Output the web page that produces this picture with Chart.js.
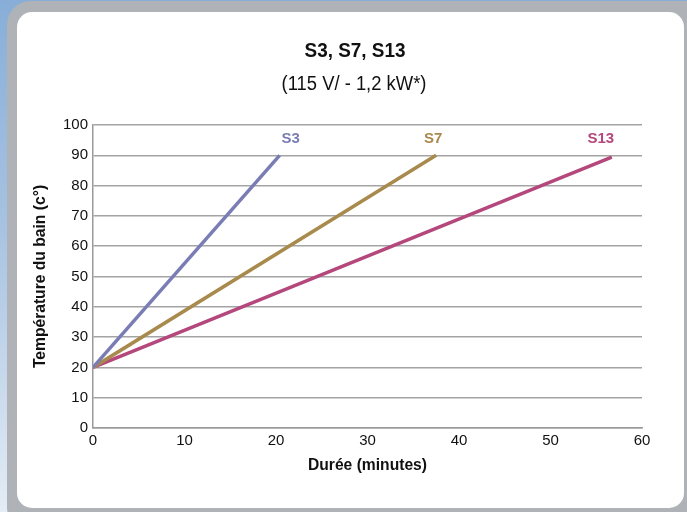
<!DOCTYPE html>
<html>
<head>
<meta charset="utf-8">
<script src="https://cdn.jsdelivr.net/npm/chart.js@4.4.1/dist/chart.umd.min.js"></script>
<style>
  html, body { margin: 0; padding: 0; }
  body {
    width: 687px; height: 512px; overflow: hidden; position: relative;
    background: linear-gradient(180deg, #88aed8 0%, #a8c3e2 45%, #e4ecf5 100%);
  }
  .frame {
    position: absolute; left: 7px; top: 1px; width: 700px; height: 530px;
    background: #afb3b7; border-radius: 24px;
  }
  .panel {
    position: absolute; left: 17px; top: 12px; width: 667px; height: 496px;
    background: #ffffff; border-radius: 15px;
  }
  canvas { position: absolute; left: 0; top: 0; }
</style>
</head>
<body>
<div class="frame"></div>
<div class="panel"></div>
<canvas id="chart" width="687" height="512"></canvas>
<script>
// Heating curves: bath temperature (°C) against time (minutes)
const seriesNames = ['S3', 'S7', 'S13'];
const durations = {
  S3:  [0, 20.4],
  S7:  [0, 37.5],
  S13: [0, 56.7]
};
const temperatures = {
  S3:  [20, 90],
  S7:  [20, 90],
  S13: [20, 89.4]
};
const seriesColors = ['#7a7db4', '#a88a4c', '#b4477b'];
const labelShift = [11, -3, -11];
const xTicks = [0, 10, 20, 30, 40, 50, 60];
const yTicks = [0, 10, 20, 30, 40, 50, 60, 70, 80, 90, 100];

const sans = '"Liberation Sans", Arial, Helvetica, sans-serif';

// Draw text squeezed horizontally to get a condensed face
function condensedText(ctx, text, x, y, font, squeeze, angle) {
  ctx.save();
  ctx.translate(x, y);
  if (angle) ctx.rotate(angle);
  ctx.scale(squeeze, 1);
  ctx.font = font;
  ctx.fillStyle = '#111';
  ctx.textAlign = 'center';
  ctx.textBaseline = 'middle';
  ctx.fillText(text, 0, 0);
  ctx.restore();
}

const datasets = seriesNames.map((name, i) => ({
  label: name,
  data: durations[name].map((x, k) => ({ x, y: temperatures[name][k] })),
  borderColor: seriesColors[i],
  backgroundColor: seriesColors[i],
  borderWidth: 3.5,
  pointRadius: 0,
  showLine: true,
  borderCapStyle: 'butt'
}));

// Series names written above the end of each curve
const endLabels = {
  id: 'endLabels',
  afterDatasetsDraw(chart) {
    const ctx = chart.ctx;
    ctx.save();
    ctx.font = 'bold 15px ' + sans;
    ctx.textAlign = 'center';
    ctx.textBaseline = 'middle';
    chart.data.datasets.forEach((ds, i) => {
      const meta = chart.getDatasetMeta(i);
      const last = meta.data[meta.data.length - 1];
      ctx.fillStyle = ds.borderColor;
      ctx.fillText(ds.label, last.x + labelShift[i], chart.scales.y.getPixelForValue(95.3));
    });
    ctx.restore();
  }
};

// Heading, subheading and axis titles
const headings = {
  id: 'headings',
  afterDraw(chart) {
    const ctx = chart.ctx;
    const area = chart.chartArea;
    condensedText(ctx, 'S3, S7, S13', 355, 51, 'bold 21px ' + sans, 0.9);
    condensedText(ctx, '(115 V/ - 1,2 kW*)', 354, 84, '20px ' + sans, 0.92);
    condensedText(ctx, 'Durée (minutes)', (area.left + area.right) / 2, 465, 'bold 17px ' + sans, 0.92);
    condensedText(ctx, 'Température du bain (c°)', 40, (area.top + area.bottom) / 2, 'bold 17px ' + sans, 0.92, -Math.PI / 2);
  }
};

new Chart(document.getElementById('chart'), {
  type: 'scatter',
  data: { datasets },
  options: {
    responsive: false,
    animation: false,
    layout: { padding: { left: 32, right: 45, top: 125, bottom: 39 } },
    plugins: { legend: { display: false }, tooltip: { enabled: false } },
    scales: {
      x: {
        type: 'linear', min: 0, max: 60,
        afterBuildTicks: s => { s.ticks = xTicks.map(v => ({ value: v })); },
        afterFit: s => { s.height = 45; },
        ticks: { padding: 4, color: '#111', font: { family: sans, size: 15 } },
        grid: { display: false, drawTicks: false },
        border: { display: true, color: '#9a9a9a', width: 1.5 }
      },
      y: {
        type: 'linear', min: 0, max: 100,
        afterBuildTicks: s => { s.ticks = yTicks.map(v => ({ value: v })); },
        afterFit: s => { s.width = 61; },
        ticks: { padding: 5, color: '#111', font: { family: sans, size: 15 } },
        grid: { color: '#a4a4a4', lineWidth: 1.5, drawTicks: false },
        border: { display: true, color: '#9a9a9a', width: 1.5 }
      }
    }
  },
  plugins: [endLabels, headings]
});
</script>
</body>
</html>
